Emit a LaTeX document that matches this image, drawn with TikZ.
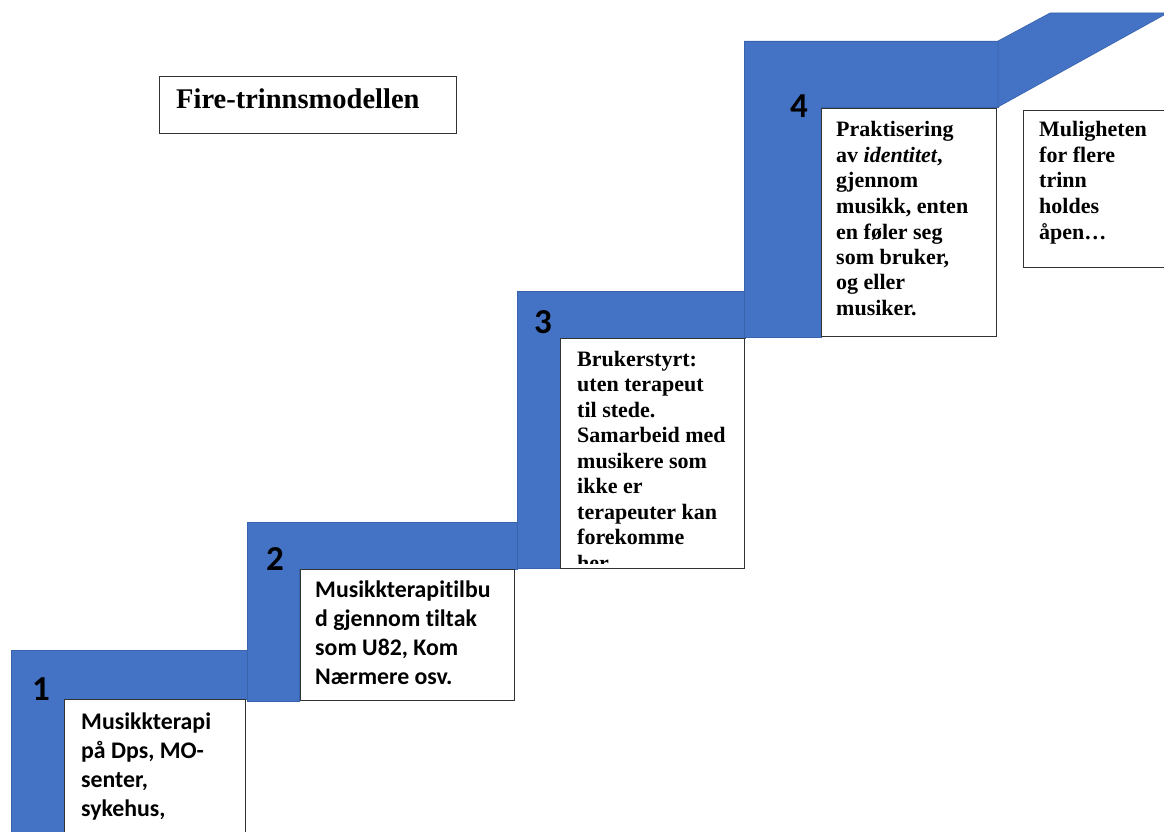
\documentclass[tikz,border=0pt]{standalone}
\usepackage{fontspec}
\setmainfont{Liberation Serif}
\newfontfamily\carlito{Carlito}[Ligatures=NoCommon]
\definecolor{stepblue}{HTML}{4472C4}
\definecolor{stepedge}{HTML}{3A63AD}
\newcommand\lines[2]{\parbox[t]{#1}{\raggedright #2}}
\tikzset{
  band/.style={fill=stepblue,draw=stepedge,line width=0.6pt},
  tbox/.style={draw=black!80,line width=1.3pt,fill=white,anchor=north west,inner sep=0pt},
  caltxt/.style={anchor=base west,inner sep=0pt,font=\carlito\bfseries\fontsize{23.8}{29}\selectfont},
  timtxt/.style={anchor=base west,inner sep=0pt,font=\bfseries\fontsize{22}{25.5}\selectfont},
  stepnum/.style={anchor=base west,inner sep=0pt,font=\carlito\bfseries\fontsize{35}{40}\selectfont},
  heading/.style={anchor=base west,inner sep=0pt,font=\bfseries\fontsize{28.5}{32}\selectfont}
}
\begin{document}
\begin{tikzpicture}[x=1pt,y=-1pt]
\clip (0,0) rectangle (1164,832);
\fill[white] (0,0) rectangle (1164,832);
% the four steps
\foreach \xo/\yt/\xn/\yi/\xi/\yb in {11/650/247/699/64/840,247/522/517/569/299/701,517/291/745/338/560/568,744/41/998/107/821/337}
  \draw[band] (\xo,\yt) -- (\xn,\yt) -- (\xn,\yi) -- (\xi,\yi) -- (\xi,\yb) -- (\xo,\yb) -- cycle;
\draw[band] (998,41) -- (1050,13) -- (1164,13) -- (1164,15) -- (998,107) -- cycle;
% title
\node[tbox,minimum width=297pt,minimum height=57pt] (titlebox) at (159,76) {};
\node[heading] (title) at (176,109) {Fire-trinnsmodellen};
% numbers
\node[stepnum] (n1) at (32,700) {1};
\node[stepnum] (n2) at (266,570) {2};
\node[stepnum] (n3) at (534,333) {3};
\node[stepnum] (n4) at (790,118) {4};
% boxes
\node[tbox,minimum width=181pt,minimum height=150pt] (box1) at (64,699) {};
\node[caltxt] (txt1) at (81,729) {\lines{165pt}{Musikkterapi\\på Dps, MO-\\senter,\\sykehus,}};
\node[tbox,minimum width=214pt,minimum height=131pt] (box2) at (300,569) {};
\node[caltxt] (txt2) at (315,597) {\lines{195pt}{Musikkterapitilbu\\d gjennom tiltak\\som U82, Kom\\Nærmere osv.}};
\node[tbox,minimum width=184pt,minimum height=230pt] (box3) at (560,338) {};
\begin{scope}
\clip (560,338) rectangle (744,563);
\node[timtxt] (txt3) at (577,366) {\lines{165pt}{Brukerstyrt:\\uten terapeut\\til stede.\\Samarbeid med\\musikere som\\ikke er\\terapeuter kan\\forekomme\\her.}};
\end{scope}
\node[tbox,minimum width=175pt,minimum height=228pt] (box4) at (821,108) {};
\node[timtxt] (txt4) at (836,137) {\lines{160pt}{Praktisering\\av \textit{identitet},\\gjennom\\musikk, enten\\en føler seg\\som bruker,\\og eller\\musiker.}};
\node[tbox,minimum width=160pt,minimum height=157pt] (box5) at (1023,110) {};
\node[timtxt] (txt5) at (1039,137) {\lines{120pt}{Muligheten\\for flere\\trinn\\holdes\\åpen…}};
\end{tikzpicture}
\end{document}
